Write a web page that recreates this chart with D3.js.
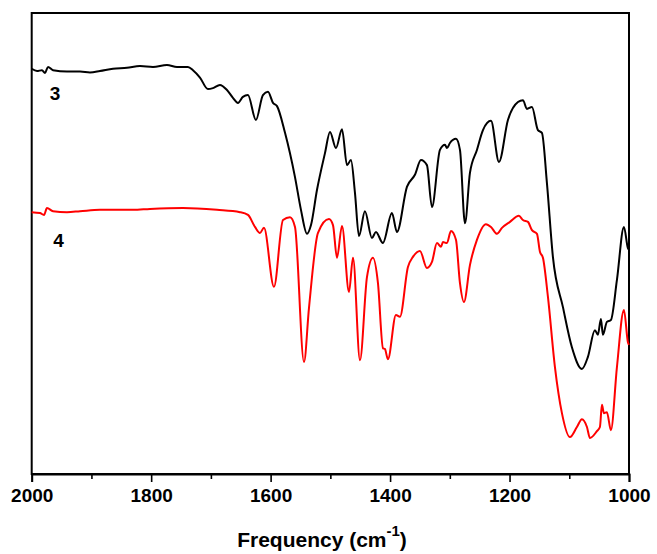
<!DOCTYPE html>
<html>
<head>
<meta charset="utf-8">
<script src="https://cdn.jsdelivr.net/npm/d3@7"></script>
<style>
  html, body { margin: 0; padding: 0; background: #fff; }
  svg { display: block; }
  text { font-family: "Liberation Sans", Arial, sans-serif; font-weight: bold; fill: #000; }
</style>
</head>
<body>
<svg id="chart" width="657" height="554"></svg>
<script>
// ---- data (wavenumber in cm-1, transmittance in arbitrary %) ----
const wn3 = [2000,1991.1,1982.8,1977.7,1972.7,1964.3,1940.9,1919.1,1902.4,1885.7,1863.9,1840.5,1818.7,1797.0,1773.5,1756.8,1738.4,1730.0,1718.3,1704.9,1696.6,1684.9,1673.1,1663.1,1654.7,1646.4,1638.0,1624.6,1612.9,1604.4,1596.0,1589.3,1575.9,1559.2,1549.2,1539.1,1532.4,1522.4,1509.0,1500.6,1490.6,1480.5,1472.1,1465.5,1458.8,1452.1,1442.1,1430.4,1423.7,1412.0,1396.9,1388.5,1371.8,1358.4,1348.3,1338.3,1329.9,1316.5,1308.1,1304.8,1299.8,1289.7,1283.0,1274.6,1266.3,1254.6,1244.5,1231.1,1217.7,1202.7,1185.9,1177.6,1170.9,1162.5,1152.5,1145.8,1137.4,1127.4,1110.6,1095.6,1078.8,1068.8,1057.1,1052.1,1047.0,1043.7,1037.0,1030.3,1020.2,1008.5,1001.8,1000];
const t3 = [87.9,87.4,87.6,87.0,88.3,87.6,87.3,87.3,87.1,87.4,87.9,88.1,88.5,88.3,88.7,88.3,88.3,87.6,86.0,83.5,83.7,84.4,83.3,81.6,80.5,81.8,82.2,76.8,82.2,82.9,80.5,79.8,74.0,64.4,57.3,52.1,54.0,61.6,69.6,74.2,70.7,74.8,67.0,68.1,61.0,51.6,57.0,51.2,52.5,50.1,56.6,52.5,62.3,64.9,68.1,67.0,57.9,70.3,71.4,70.7,71.8,72.7,70.3,54.4,65.3,70.3,74.6,76.6,67.7,76.8,80.7,81.1,79.2,79.6,74.6,74.0,63.1,47.1,36.2,27.5,22.8,25.4,31.2,30.2,33.6,30.2,33.0,33.4,42.1,53.6,49.0,48.6];

const wn4 = [2000,1986.1,1979.4,1974.4,1964.3,1940.9,1919.1,1885.7,1830.4,1802.0,1746.7,1689.8,1651.3,1637.9,1626.2,1617.8,1611.1,1594.4,1579.3,1567.6,1559.2,1544.1,1535.8,1520.7,1502.3,1495.6,1488.9,1480.5,1468.8,1462.1,1450.4,1438.7,1428.6,1420.3,1411.9,1408.6,1403.6,1390.2,1383.5,1370.1,1361.7,1350.0,1338.3,1329.9,1321.5,1314.8,1311.5,1304.8,1298.1,1289.7,1283.0,1276.3,1266.3,1254.6,1239.5,1231.1,1221.1,1212.7,1199.3,1184.3,1177.6,1169.2,1162.5,1154.1,1149.1,1144.1,1135.7,1124.0,1112.3,1098.9,1087.2,1078.8,1070.4,1065.4,1053.7,1048.7,1045.3,1042.0,1037.0,1030.3,1020.2,1008.5,1001.8,1000];
const t4 = [56.8,56.6,56.2,57.7,57.0,56.8,57.0,57.3,57.3,57.5,57.7,57.3,56.8,56.2,53.6,52.3,53.4,40.6,55.1,55.7,53.6,24.3,36.0,52.3,55.3,54.0,46.9,53.8,39.5,46.9,24.7,42.7,46.9,41.4,27.3,27.1,24.9,34.5,34.1,44.9,47.1,48.4,44.7,46.0,50.1,49.3,50.3,50.1,52.7,50.8,41.4,37.3,45.3,50.8,54.2,53.6,52.1,53.4,54.7,56.0,55.1,54.7,52.9,52.1,48.2,46.9,38.4,23.2,13.2,8.0,10.2,11.9,10.2,7.8,9.3,10.2,15.0,13.2,13.4,9.5,23.2,35.6,28.6,28.0];

const majorTicks = [2000,1800,1600,1400,1200,1000];
const minorTicks = [1900,1700,1500,1300,1100];
const seriesNames = ["3","4"];
const seriesColors = ["#000000","#ff0000"];
const labelPos = [{wn:1961, t:81.2},{wn:1955, t:49.3}];
const xTitle = "Frequency (cm";
const xTitleSup = "-1";

// ---- layout ----
const L = 31.7, R = 629, T = 13, B = 474;
const svg = d3.select("#chart");
const x = d3.scaleLinear().domain([2000,1000]).range([L,R]);
const y = d3.scaleLinear().domain([0,100]).range([B,T]);

// frame
svg.append("rect").attr("x",L).attr("y",T).attr("width",R-L).attr("height",B-T)
  .attr("fill","none").attr("stroke","#000").attr("stroke-width",2);

// axis
const axis = d3.axisBottom(x).tickValues(majorTicks).tickSize(8).tickPadding(7).tickFormat(d3.format("d"));
const gAx = svg.append("g").attr("transform",`translate(0,${B})`).call(axis);
gAx.select(".domain").attr("stroke-width",2);
gAx.selectAll(".tick line").attr("stroke-width",1.6);
gAx.selectAll(".tick text").attr("font-size",19).attr("font-family","'Liberation Sans', Arial, sans-serif").attr("font-weight","bold").attr("fill","#000");
const minorAxis = d3.axisBottom(x).tickValues(minorTicks).tickSize(5).tickFormat("");
const gMin = svg.append("g").attr("transform",`translate(0,${B})`).call(minorAxis);
gMin.select(".domain").remove();
gMin.selectAll(".tick line").attr("stroke-width",1.6);

// lines
const line = d3.line().x(d=>x(d[0])).y(d=>y(d[1])).curve(d3.curveMonotoneX);
const data = [d3.zip(wn3,t3), d3.zip(wn4,t4)];
data.forEach((s,i)=>{
  svg.append("path").datum(s).attr("d",line).attr("fill","none")
    .attr("stroke",seriesColors[i]).attr("stroke-width",2).attr("stroke-linejoin","round");
});

// series labels
seriesNames.forEach((n,i)=>{
  svg.append("text").attr("x",x(labelPos[i].wn)).attr("y",y(labelPos[i].t))
    .attr("text-anchor","middle").attr("font-size",19).text(n);
});

// x title
const tt = svg.append("text").attr("x",322).attr("y",547).attr("text-anchor","middle").attr("font-size",21);
tt.append("tspan").text(xTitle);
tt.append("tspan").attr("dy",-11).attr("font-size",15).text(xTitleSup);
tt.append("tspan").attr("dy",11).text(")");
</script>
</body>
</html>
